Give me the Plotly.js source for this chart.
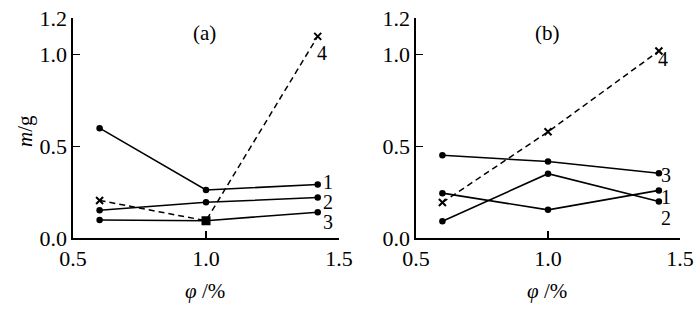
<!DOCTYPE html>
<html>
<head>
<meta charset="utf-8">
<script src="https://cdn.plot.ly/plotly-3.0.1.min.js"></script>
<style>html,body{margin:0;padding:0;background:#fff;}#chart{width:700px;height:315px;}</style>
</head>
<body>
<div id="chart"></div>
<script>
// φ values (%)
const phi = [0.6, 1.0, 1.42];

// Panel (a) mass m/g
const a1 = [0.60, 0.263, 0.293];
const a2 = [0.153, 0.196, 0.222];
const a3 = [0.10, 0.096, 0.142];
const a4 = [0.206, 0.096, 1.10];

// Panel (b) mass m/g
const b1 = [0.093, 0.352, 0.200];
const b2 = [0.246, 0.155, 0.261];
const b3 = [0.452, 0.418, 0.354];
const b4 = [0.195, 0.58, 1.02];

const curveLabels = ['1', '2', '3', '4'];
const panelLabels = ['(a)', '(b)'];
const xTicks = [0.5, 1.0, 1.5];
const xTickText = ['0.5', '1.0', '1.5'];
const yTicks = [0.0, 0.5, 1.0, 1.2];
const yTickText = ['0.0', '0.5', '1.0', '1.2'];

const FONT = '"Liberation Serif", "Times New Roman", Times, serif';
const W = 700, H = 315;
const px = v => v / W;
const py = v => 1 - v / H;

function solid(y, xa, ya) {
  return {x: phi, y: y, xaxis: xa, yaxis: ya, mode: 'lines+markers',
    line: {color: '#000', width: 1.6},
    marker: {symbol: 'circle', size: 6.5, color: '#000'}, showlegend: false, hoverinfo: 'skip'};
}
function dashed(y, xa, ya, symbols) {
  return {x: phi, y: y, xaxis: xa, yaxis: ya, mode: 'lines+markers',
    line: {color: '#000', width: 1.5, dash: '6px,4px'},
    marker: {symbol: symbols, size: 7, color: '#000', line: {color: '#000', width: 2}},
    showlegend: false, hoverinfo: 'skip'};
}

const data = [
  solid(a1, 'x', 'y'), solid(a2, 'x', 'y'), solid(a3, 'x', 'y'),
  dashed(a4, 'x', 'y', ['x-thin', 'square', 'x-thin']),
  solid(b1, 'x2', 'y2'), solid(b2, 'x2', 'y2'), solid(b3, 'x2', 'y2'),
  dashed(b4, 'x2', 'y2', ['x-thin', 'x-thin', 'x-thin'])
];

function xax(domain, anchor) {
  return {domain: domain, anchor: anchor, range: [0.5, 1.5], showgrid: false, zeroline: false,
    showline: true, linecolor: '#000', linewidth: 1.6, mirror: false,
    ticks: 'inside', ticklen: 7, tickwidth: 1.5, tickcolor: '#000',
    tickmode: 'array', tickvals: xTicks, ticktext: xTickText,
    tickfont: {family: FONT, size: 22, color: '#000'}, fixedrange: true};
}
function yax(domain, anchor) {
  return {domain: domain, anchor: anchor, range: [0, 1.2], showgrid: false, zeroline: false,
    showline: true, linecolor: '#000', linewidth: 1.6, mirror: false,
    ticks: 'inside', ticklen: 7, tickwidth: 1.5, tickcolor: '#000',
    tickmode: 'array', tickvals: yTicks, ticktext: yTickText,
    tickfont: {family: FONT, size: 22, color: '#000'}, fixedrange: true};
}

const yDom = [(H - 238.3) / H, (H - 18) / H];

const ann = [];
function txt(x, y, t, size, extra) {
  ann.push(Object.assign({xref: 'paper', yref: 'paper', x: px(x), y: py(y), text: t,
    showarrow: false, xanchor: 'center', yanchor: 'middle',
    font: {family: FONT, size: size, color: '#000'}}, extra || {}));
}
// panel labels
txt(204, 33, panelLabels[0], 21);
txt(547, 33, panelLabels[1], 21);
// curve labels (a)
txt(328, 182, curveLabels[0], 20);
txt(328, 202, curveLabels[1], 20);
txt(328, 222, curveLabels[2], 20);
txt(322, 53, curveLabels[3], 20);
// curve labels (b)
txt(666, 197, curveLabels[0], 20);
txt(666, 218, curveLabels[1], 20);
txt(666, 175, curveLabels[2], 20);
txt(663, 59, curveLabels[3], 20);
// axis titles
txt(205, 291, '<i>φ</i> /%', 21);
txt(547, 291, '<i>φ</i> /%', 21);
txt(25, 131, '<i>m</i>/g', 21, {textangle: -90});

const layout = {
  width: W, height: H,
  margin: {l: 0, r: 0, t: 0, b: 0},
  paper_bgcolor: '#fff', plot_bgcolor: 'rgba(0,0,0,0)',
  xaxis: xax([73 / W, 339 / W], 'y'),
  yaxis: yax(yDom, 'x'),
  xaxis2: xax([416 / W, 680 / W], 'y2'),
  yaxis2: yax(yDom, 'x2'),
  annotations: ann,
  showlegend: false
};

Plotly.newPlot('chart', data, layout, {staticPlot: true, displayModeBar: false});
</script>
</body>
</html>
